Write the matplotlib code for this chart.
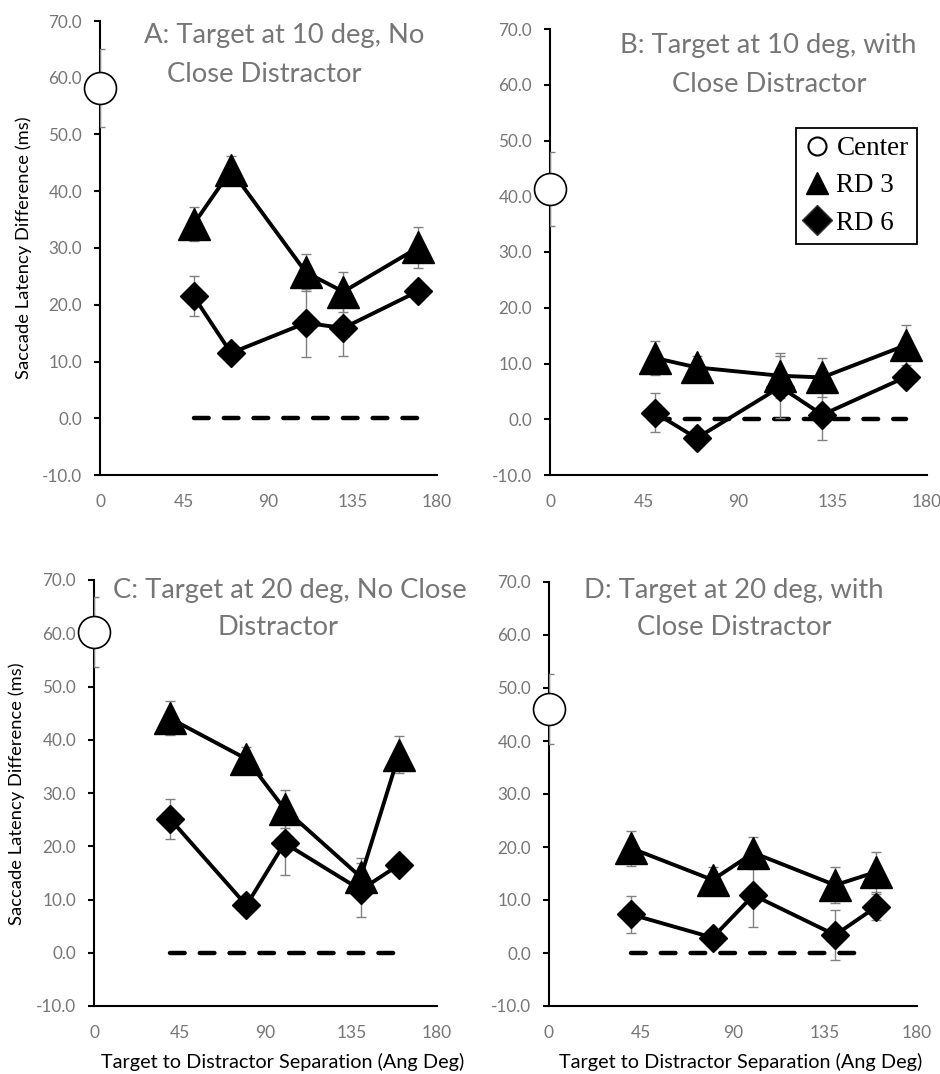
import matplotlib
matplotlib.use("Agg")
import matplotlib.pyplot as plt
from matplotlib.lines import Line2D

W, H = 940, 1074
plt.rcParams['font.family'] = ['Lato', 'DejaVu Sans']

# ---------------- data ----------------
x_A = [50, 70, 110, 130, 170]
rd3_A = [34.2, 43.7, 25.7, 22.3, 30.1]
rd3_A_err = [3.0, 2.5, 3.2, 3.5, 3.6]
rd6_A = [21.5, 11.5, 16.8, 15.9, 22.4]
rd6_A_err = [3.5, 1.0, 6.0, 5.0, 1.0]
center_A, center_A_err = 58.2, 6.8
zero_A = [50, 170]

x_B = [50, 70, 110, 130, 170]
rd3_B = [11.0, 9.3, 7.8, 7.5, 13.3]
rd3_B_err = [3.0, 2.0, 4.0, 3.5, 3.6]
rd6_B = [1.2, -3.4, 5.8, 0.8, 7.6]
rd6_B_err = [3.5, 1.0, 5.6, 4.5, 1.5]
center_B, center_B_err = 41.3, 6.7
zero_B = [50, 170]

x_C = [40, 80, 100, 140, 160]
rd3_C = [44.0, 36.4, 27.0, 14.2, 37.2]
rd3_C_err = [3.2, 2.3, 3.5, 3.5, 3.5]
rd6_C = [25.1, 8.9, 20.6, 11.8, 16.5]
rd6_C_err = [3.7, 1.0, 6.0, 5.0, 1.0]
center_C, center_C_err = 60.3, 6.6
zero_C = [40, 160]

x_D = [40, 80, 100, 140, 160]
rd3_D = [19.8, 13.8, 18.9, 12.8, 15.3]
rd3_D_err = [3.3, 2.4, 3.0, 3.4, 3.7]
rd6_D = [7.3, 2.9, 10.9, 3.4, 8.7]
rd6_D_err = [3.5, 1.0, 6.0, 4.8, 2.5]
center_D, center_D_err = 46.0, 6.6
zero_D = [40, 152]

titles_A = ["A: Target at 10 deg, No", "Close Distractor"]
titles_B = ["B: Target at 10 deg, with", "Close Distractor"]
titles_C = ["C: Target at 20 deg, No Close", "Distractor"]
titles_D = ["D: Target at 20 deg, with", "Close Distractor"]

y_ticks = [-10, 0, 10, 20, 30, 40, 50, 60, 70]
x_ticks = [0, 45, 90, 135, 180]
legend_labels = ["Center", "RD 3", "RD 6"]
ylabel = "Saccade Latency Difference (ms)"
xlabel = "Target to Distractor Separation (Ang Deg)"

# ---------------- styling ----------------
GRAY = '#767676'
fig = plt.figure(figsize=(W / 100, H / 100), dpi=100)


def px_axes(l, r, t, b):
    return fig.add_axes([l / W, 1 - b / H, (r - l) / W, (b - t) / H])


def ftext(x, y, s, **kw):
    fig.text(x / W, 1 - y / H, s, **kw)


def draw_panel(ax, x, rd3, rd3e, rd6, rd6e, c, ce, zx):
    ax.set_xlim(0, 180)
    ax.set_ylim(-10, 70)
    ax.set_xticks(x_ticks)
    ax.set_yticks(y_ticks)
    ax.set_yticklabels([f"{v:.1f}" for v in y_ticks])
    for s in ['top', 'right']:
        ax.spines[s].set_visible(False)
    for s in ['left', 'bottom']:
        ax.spines[s].set_linewidth(1.5)
        ax.spines[s].set_color('black')
    ax.tick_params(axis='y', direction='out', length=4.3, width=1.5,
                   color='black', labelcolor=GRAY, labelsize=12.3, pad=8.5)
    ax.tick_params(axis='x', length=0, labelcolor=GRAY, labelsize=12.5, pad=14)
    ax.set_facecolor('none')

    ax.plot(zx, [0, 0], color='black', lw=3.2, ls=(0, (3.3, 3.4)),
            dash_capstyle='round', zorder=2)
    ax.errorbar(x, rd3, yerr=rd3e, fmt='none', ecolor='#808080',
                elinewidth=1.0, capsize=3.5, capthick=1.0, zorder=2)
    ax.errorbar(x, rd6, yerr=rd6e, fmt='none', ecolor='#808080',
                elinewidth=1.0, capsize=3.5, capthick=1.0, zorder=2)
    ax.plot(x, rd3, color='black', lw=2.8, marker='^', ms=22.5,
            mfc='black', mec='black', zorder=3, clip_on=False)
    ax.plot(x, rd6, color='black', lw=2.8, marker='D', ms=14.5,
            mfc='black', mec='black', zorder=3, clip_on=False)
    ax.errorbar([0], [c], yerr=[ce], fmt='none', ecolor='#808080',
                elinewidth=1.0, capsize=3.5, capthick=1.0, zorder=3)
    ax.plot([0], [c], marker='o', ms=23, mfc='white', mec='black', mew=1.2,
            ls='none', zorder=4, clip_on=False)


axA = px_axes(100, 437, 21, 475)
axB = px_axes(550, 927, 29, 475)
axC = px_axes(94, 437, 580, 1006)
axD = px_axes(549, 917, 582, 1006)

draw_panel(axA, x_A, rd3_A, rd3_A_err, rd6_A, rd6_A_err, center_A, center_A_err, zero_A)
draw_panel(axB, x_B, rd3_B, rd3_B_err, rd6_B, rd6_B_err, center_B, center_B_err, zero_B)
draw_panel(axC, x_C, rd3_C, rd3_C_err, rd6_C, rd6_C_err, center_C, center_C_err, zero_C)
draw_panel(axD, x_D, rd3_D, rd3_D_err, rd6_D, rd6_D_err, center_D, center_D_err, zero_D)

# titles (two lines each)
tkw = dict(color=GRAY, fontsize=19.7, ha='center', va='baseline')
ftext(284, 43, titles_A[0], **tkw)
ftext(264, 82, titles_A[1], **tkw)
ftext(768, 53, titles_B[0], **tkw)
ftext(769, 92, titles_B[1], **tkw)
ftext(290, 598, titles_C[0], **tkw)
ftext(278, 635, titles_C[1], **tkw)
ftext(734, 598, titles_D[0], **tkw)
ftext(734, 635, titles_D[1], **tkw)

# axis labels
ftext(24, 248, ylabel, rotation=90, ha='center', va='center', fontsize=13.2, color='black')
ftext(17, 794, ylabel, rotation=90, ha='center', va='center', fontsize=13.2, color='black')
ftext(283, 1062, xlabel, ha='center', va='center', fontsize=14.3, color='black')
ftext(741, 1062, xlabel, ha='center', va='center', fontsize=14.3, color='black')

# legend
handles = [
    Line2D([], [], ls='none', marker='o', ms=13, mfc='white', mec='black', mew=1.5),
    Line2D([], [], ls='none', marker='^', ms=16, mfc='black', mec='black'),
    Line2D([], [], ls='none', marker='D', ms=15, mfc='black', mec='#333333'),
]
leg = axB.legend(handles, legend_labels, loc='upper left',
                 bbox_to_anchor=(0.652, 0.778), borderaxespad=0,
                 prop={'family': 'Liberation Serif', 'size': 19.5},
                 frameon=True, fancybox=False, edgecolor='black',
                 framealpha=1, handlelength=1.0, handletextpad=0.2,
                 labelspacing=0.45, borderpad=0.3)
leg.get_frame().set_linewidth(1.3)

fig.savefig('out.png', dpi=100)
